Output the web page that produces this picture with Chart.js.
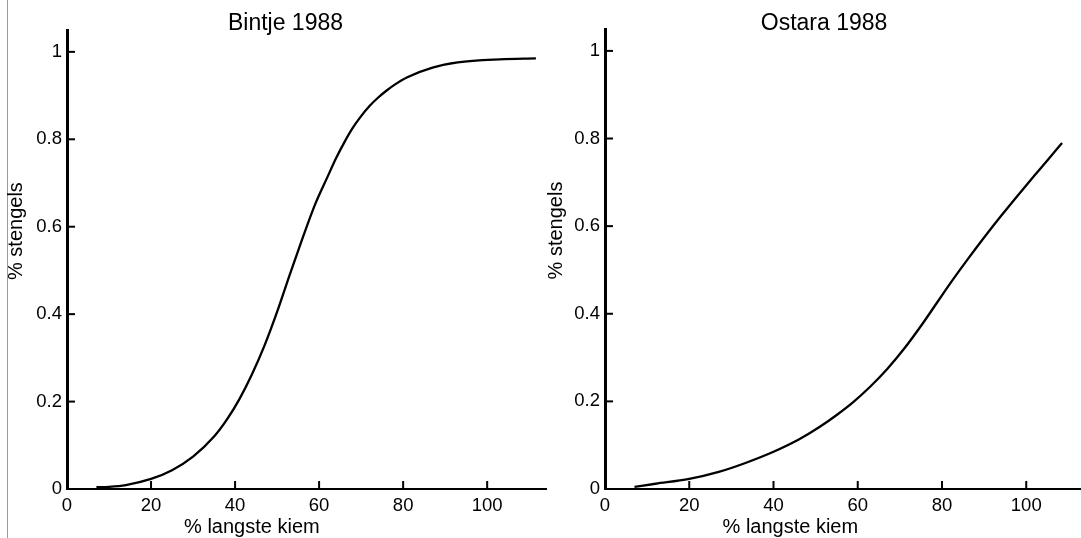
<!DOCTYPE html>
<html>
<head>
<meta charset="utf-8">
<script src="https://cdn.jsdelivr.net/npm/chart.js@4/dist/chart.umd.min.js"></script>
<style>
  body { margin: 0; background: #fff; width: 1081px; height: 538px; overflow: hidden; position: relative; }
  canvas { position: absolute; top: 0; }
  #edge { position: absolute; left: 7px; top: 0; width: 1px; height: 538px; background: #9a9a9a; }
</style>
</head>
<body>
<div id="edge"></div>
<canvas id="bintje" width="550" height="538" style="left:0"></canvas>
<canvas id="ostara" width="541" height="538" style="left:540px"></canvas>
<script>
// values
const bintjeX = [7, 10, 14, 20, 25, 30, 35, 38, 41, 44, 47, 50, 53, 56, 59, 62, 64, 66, 68, 70, 72, 74, 76, 78, 81, 87, 93, 103, 111.6];
const bintjeY = [0.004, 0.005, 0.009, 0.023, 0.043, 0.074, 0.120, 0.158, 0.205, 0.262, 0.328, 0.405, 0.490, 0.572, 0.650, 0.714, 0.756, 0.793, 0.826, 0.853, 0.876, 0.895, 0.911, 0.925, 0.942, 0.964, 0.976, 0.983, 0.985];

const ostaraX = [7, 12, 20, 27, 33.5, 40, 46, 51, 55, 59, 63, 67, 71, 75, 79, 82, 86, 90, 94, 98, 102, 105, 108.5];
const ostaraY = [0.005, 0.012, 0.023, 0.039, 0.060, 0.085, 0.113, 0.142, 0.169, 0.199, 0.234, 0.274, 0.320, 0.372, 0.428, 0.470, 0.523, 0.574, 0.623, 0.670, 0.716, 0.750, 0.790];

const xTicks = [0, 20, 40, 60, 80, 100];
const yTicks = [0, 0.2, 0.4, 0.6, 0.8, 1];

const FONT = "'Liberation Sans', Arial, sans-serif";

// titles, axis titles and the inward tick marks
const paperLook = {
  id: 'paperLook',
  afterDraw(chart, args, opts) {
    const ctx = chart.ctx;
    const a = chart.chartArea;
    const xs = chart.scales.x, ys = chart.scales.y;
    ctx.save();
    ctx.strokeStyle = '#000';
    ctx.lineWidth = 2;
    xTicks.forEach(v => {
      const p = xs.getPixelForValue(v);
      ctx.beginPath(); ctx.moveTo(p, a.bottom); ctx.lineTo(p, a.bottom - 8); ctx.stroke();
    });
    yTicks.forEach(v => {
      const p = ys.getPixelForValue(v);
      ctx.beginPath(); ctx.moveTo(a.left, p); ctx.lineTo(a.left + 8, p); ctx.stroke();
    });

    ctx.fillStyle = '#000';
    ctx.textAlign = 'center';
    ctx.textBaseline = 'alphabetic';
    ctx.font = '23px ' + FONT;
    ctx.fillText(opts.title, xs.getPixelForValue(52), 30);

    ctx.font = '20px ' + FONT;
    ctx.fillText('% langste kiem', xs.getPixelForValue(44), 533);

    ctx.translate(16, ys.getPixelForValue(0.59));
    ctx.rotate(-Math.PI / 2);
    ctx.textBaseline = 'middle';
    ctx.fillText('% stengels', 0, 0);
    ctx.restore();
  }
};

function makeChart(id, title, xs, ys, xMax, yWidth, padTop, padRight) {
  const ctx = document.getElementById(id).getContext('2d');
  return new Chart(ctx, {
    type: 'line',
    data: {
      datasets: [{
        data: xs.map((x, i) => ({ x: x, y: ys[i] })),
        borderColor: '#000',
        borderWidth: 2.3,
        pointRadius: 0,
        fill: false,
        cubicInterpolationMode: 'monotone'
      }]
    },
    options: {
      responsive: false,
      animation: false,
      layout: { padding: { top: padTop, right: padRight, left: 0, bottom: 0 } },
      plugins: {
        legend: { display: false },
        tooltip: { enabled: false },
        paperLook: { title: title }
      },
      scales: {
        x: {
          type: 'linear',
          min: 0,
          max: xMax,
          afterFit: s => { s.height = 49; },
          afterBuildTicks: s => { s.ticks = xTicks.map(v => ({ value: v })); },
          grid: { drawOnChartArea: false, drawTicks: false },
          border: { display: true, color: '#000', width: 2 },
          ticks: { color: '#000', padding: 6, font: { family: FONT, size: 18.5 }, callback: v => String(v) }
        },
        y: {
          type: 'linear',
          min: 0,
          max: 1.05,
          afterFit: s => { s.width = yWidth; },
          afterBuildTicks: s => { s.ticks = yTicks.map(v => ({ value: v })); },
          grid: { drawOnChartArea: false, drawTicks: false },
          border: { display: true, color: '#000', width: 3 },
          ticks: { color: '#000', padding: 5, font: { family: FONT, size: 18.5 }, callback: v => String(v) }
        }
      }
    },
    plugins: [paperLook]
  });
}

makeChart('bintje', 'Bintje 1988', bintjeX, bintjeY, 114, 67, 30, 4);
makeChart('ostara', 'Ostara 1988', ostaraX, ostaraY, 113, 65, 29, 0);
</script>
</body>
</html>
